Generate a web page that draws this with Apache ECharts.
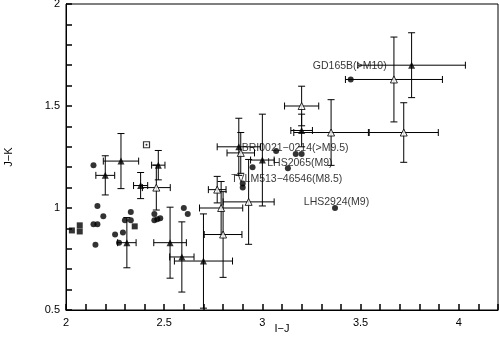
<!DOCTYPE html>
<html>
<head>
<meta charset="utf-8">
<script src="https://cdn.jsdelivr.net/npm/echarts@6/dist/echarts.min.js"></script>
<style>
  html, body { margin: 0; padding: 0; background: #fff; }
  #chart { width: 499px; height: 339px; }
</style>
</head>
<body>
<div id="chart"></div>
<script>
// filled circles (no error bars)
const circleX = [2.14, 2.16, 2.19, 2.14, 2.16, 2.15, 2.25, 2.27, 2.29, 2.30, 2.33, 2.33,
  2.45, 2.45, 2.465, 2.48, 2.60, 2.62, 2.90, 2.95, 3.17, 3.20];
const circleY = [1.21, 1.01, 0.96, 0.92, 0.92, 0.82, 0.87, 0.83, 0.88, 0.94, 0.94, 0.98,
  0.97, 0.94, 0.945, 0.95, 1.00, 0.97, 1.10, 1.20, 1.265, 1.265];

// filled squares
const squareX = [2.03, 2.07, 2.07, 2.35];
const squareY = [0.89, 0.915, 0.885, 0.91];

// dotted box
const boxX = [2.41];
const boxY = [1.31];

// labelled objects
const namedX = [3.45, 3.07, 3.13, 2.90, 3.37];
const namedY = [1.63, 1.28, 1.195, 1.12, 1.00];
const namedText = ["GD165B(>M10)", "BRI0021\u22120214(>M9.5)", "LHS2065(M9)", "TVLM513\u221246546(M8.5)", "LHS2924(M9)"];

// filled triangles with errors
const triFX = [2.20, 2.28, 2.31, 2.38, 2.47, 2.53, 2.59, 2.70, 2.88, 3.00, 3.20, 3.76];
const triFY = [1.16, 1.23, 0.83, 1.11, 1.21, 0.83, 0.76, 0.74, 1.30, 1.235, 1.38, 1.70];
const triFXErr = [0.048, 0.09, 0.047, 0.036, 0.034, 0.083, 0.062, 0.148, 0.11, 0.06, 0.055, 0.274];
const triFYErr = [0.096, 0.135, 0.123, 0.064, 0.072, 0.174, 0.172, 0.231, 0.14, 0.225, 0.08, 0.159];

// open triangles with errors
const triOX = [2.46, 2.77, 2.79, 2.80, 2.89, 2.93, 3.20, 3.35, 3.67, 3.72];
const triOY = [1.10, 1.09, 1.00, 0.87, 1.27, 1.03, 1.50, 1.37, 1.63, 1.37];
const triOXErr = [0.071, 0.045, 0.11, 0.096, 0.07, 0.13, 0.087, 0.19, 0.247, 0.176];
const triOYErr = [0.11, 0.065, 0.13, 0.21, 0.10, 0.208, 0.097, 0.161, 0.208, 0.146];

const FONT = "Liberation Sans";
const labelShift = [[-1, -13], [19, -3], [12, -5], [44, -4.5], [1.5, -6]];

const zip = (xs, ys) => xs.map((x, i) => [x, ys[i]]);
const zip4 = (xs, ys, ex, ey) => xs.map((x, i) => [x, ys[i], ex[i], ey[i]]);

function errorBars(params, api) {
  const x = api.value(0), y = api.value(1), dx = api.value(2), dy = api.value(3);
  const l = api.coord([x - dx, y]), r = api.coord([x + dx, y]);
  const t = api.coord([x, y + dy]), b = api.coord([x, y - dy]);
  const c = 3.5;
  const st = { stroke: "#000", lineWidth: 1 };
  const line = (x1, y1, x2, y2) => ({ type: "line", shape: { x1, y1, x2, y2 }, style: st });
  return {
    type: "group",
    children: [
      line(l[0], l[1], r[0], r[1]),
      line(l[0], l[1] - c, l[0], l[1] + c),
      line(r[0], r[1] - c, r[0], r[1] + c),
      line(t[0], t[1], b[0], b[1]),
      line(t[0] - c, t[1], t[0] + c, t[1]),
      line(b[0] - c, b[1], b[0] + c, b[1]),
    ],
  };
}

const halfStep = (v) => Math.abs(v * 2 - Math.round(v * 2)) < 1e-6;
const fmt = (v) => (halfStep(v) ? String(+v.toFixed(1)) : "");

function axis(isX) {
  return {
    type: "value",
    min: isX ? 2 : 0.5,
    max: isX ? 4.2 : 2,
    interval: 0.1,
    axisLine: { show: true, onZero: false, lineStyle: { color: "#000" } },
    axisTick: { show: true, inside: true, length: 6, lineStyle: { color: "#000", width: 1.5 } },
    splitLine: { show: false },
    axisLabel: { formatter: fmt, color: "#000", fontFamily: FONT, fontSize: 11, margin: isX ? 7 : 6 },
    name: isX ? "I\u2212J" : "J\u2212K",
    nameLocation: "middle",
    nameGap: isX ? 13 : 52,
    nameMoveOverlap: false,
    nameTextStyle: { color: "#000", fontFamily: FONT, fontSize: 11 },
  };
}

const chart = echarts.init(document.getElementById("chart"));
chart.setOption({
  animation: false,
  grid: {
    left: 66, right: 1, top: 4, bottom: 29, outerBoundsMode: "none",
    show: true, borderColor: "#000", borderWidth: 1,
  },
  xAxis: axis(true),
  yAxis: axis(false),
  series: [
    {
      type: "custom",
      renderItem: errorBars,
      data: zip4(triFX, triFY, triFXErr, triFYErr),
      z: 2,
    },
    {
      type: "custom",
      renderItem: errorBars,
      data: zip4(triOX, triOY, triOXErr, triOYErr),
      z: 2,
    },
    {
      type: "scatter",
      symbol: "triangle",
      symbolSize: 7,
      itemStyle: { color: "#000" },
      data: zip(triFX, triFY),
      z: 4,
    },
    {
      type: "scatter",
      symbol: "triangle",
      symbolSize: 7,
      itemStyle: { color: "#fff", borderColor: "#000", borderWidth: 1 },
      data: zip(triOX, triOY),
      z: 4,
    },
    {
      type: "scatter",
      symbol: "circle",
      symbolSize: 6,
      itemStyle: { color: "#000" },
      data: zip(circleX, circleY),
      z: 5,
    },
    {
      type: "scatter",
      symbol: "rect",
      symbolSize: 6,
      itemStyle: { color: "#000" },
      data: zip(squareX, squareY),
      z: 5,
    },
    {
      type: "scatter",
      symbol: "rect",
      symbolSize: 6,
      itemStyle: { color: "#fff", borderColor: "#000", borderWidth: 1.2 },
      data: zip(boxX, boxY),
      z: 5,
    },
    {
      type: "scatter",
      symbol: "circle",
      symbolSize: 2,
      itemStyle: { color: "#000" },
      data: zip(boxX, boxY),
      z: 6,
    },
    {
      type: "scatter",
      symbol: "circle",
      symbolSize: 6,
      itemStyle: { color: "#000" },
      data: namedX.map((x, i) => ({
        value: [x, namedY[i]],
        label: {
          show: true,
          position: "inside",
          offset: labelShift[i],
          formatter: namedText[i],
          color: "#000",
          fontFamily: FONT,
          fontSize: 10.5,
        },
      })),
      z: 6,
    },
  ],
});
</script>
</body>
</html>
